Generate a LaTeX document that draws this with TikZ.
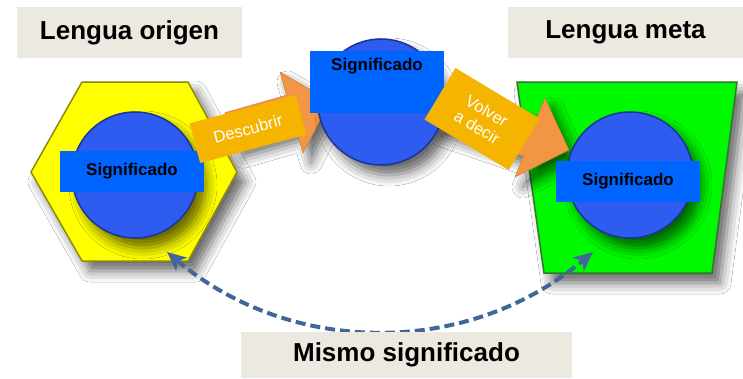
\documentclass[tikz,border=0pt]{standalone}
\usepackage{fontspec}
\setmainfont{Liberation Sans}
\usetikzlibrary{arrows.meta,shadows.blur}
\definecolor{beige}{HTML}{ECEAE0}
\definecolor{hexyel}{HTML}{FFFF00}
\definecolor{hexedge}{HTML}{8E8A10}
\definecolor{trapgreen}{HTML}{00F800}
\definecolor{trapedge}{HTML}{2F7A2A}
\definecolor{circblue}{HTML}{2E5CF0}
\definecolor{circedge}{HTML}{1B3596}
\definecolor{rectblue}{HTML}{0064FF}
\definecolor{arroworange}{HTML}{F29544}
\definecolor{boxgold}{HTML}{F5B400}
\definecolor{dashblue}{HTML}{41679A}
\begin{document}
\begin{tikzpicture}[x=1pt,y=-1pt,
  softshadow/.style={blur shadow={shadow xshift=8pt,shadow yshift=-10pt,shadow blur radius=11pt,shadow opacity=60}},
  titlebox/.style={fill=beige,inner sep=0pt,font=\fontsize{26}{30}\selectfont\bfseries},
  bigcirc/.style={circle,fill=circblue,draw=circedge,line width=1.5pt,minimum size=126pt,inner sep=0pt,softshadow},
  sigbox/.style={fill=rectblue,inner sep=0pt,font=\fontsize{17}{20}\selectfont\bfseries,text=black},
  goldbox/.style={fill=boxgold,inner sep=0pt,text=white,align=center,font=\fontsize{16.5}{19}\selectfont},
  blockarrow/.style={fill=arroworange,draw=arroworange!85!black,line width=0.5pt,softshadow},
  samelink/.style={draw=dashblue,line width=4pt,dash pattern=on 10pt off 5pt,{Stealth[length=19pt,width=17pt,inset=5pt]}-{Stealth[length=19pt,width=17pt,inset=5pt]}}
]
\useasboundingbox (0,0) rectangle (743,378);
\fill[white] (0,0) rectangle (743,378);

% hexagon (source language)
\path[fill=hexyel,draw=hexedge,line width=1.5pt,softshadow]
  (82,82) -- (188,82) -- (237,172) -- (188,261) -- (82,261) -- (31,172) -- cycle;
\node[bigcirc] (c1) at (135,175) {};
\node[sigbox,minimum width=144pt,minimum height=41pt] (s1) at (132,171.5) {Significado};

% trapezoid (target language)
\path[fill=trapgreen,draw=trapedge,line width=1.5pt,softshadow]
  (517,82) -- (737,82) -- (712,273) -- (544,273) -- cycle;

% block arrows
\path[blockarrow] (225,112.7) -- (286.5,95.2) -- (280,72) -- (330,101) -- (303,153) -- (296.5,129.8) -- (235,147.3) -- cycle;
\path[blockarrow] (446.5,88.1) -- (536.5,118.6) -- (545,98) -- (569,150) -- (515,177) -- (523.5,156.4) -- (433.5,125.9) -- cycle;

% middle meaning
\node[bigcirc] (c2) at (381,102) {};
\node[sigbox,minimum width=134pt,minimum height=62pt,anchor=north,text depth=37pt,text height=13pt] (s2) at (377,51) {Significado};

% right meaning
\node[bigcirc] (c3) at (630,175) {};
\node[sigbox,minimum width=144pt,minimum height=41pt] (s3) at (628,181.5) {Significado};

% gold label boxes
\node[goldbox,minimum width=110pt,minimum height=41pt,rotate=15] (g1) at (248,129) {Descubrir};
\node[goldbox,minimum width=98pt,minimum height=60pt,rotate=-31] (g2) at (482,119) {Volver\\a decir};

% same meaning connector
\coordinate (hexB) at (167,252);
\coordinate (trapB) at (593,252);
\draw[samelink] (hexB) .. controls (292,357) and (468,357) .. (trapB);

% title boxes
\node[titlebox,minimum width=225pt,minimum height=51pt] (lo) at (129.5,32.5) {Lengua origen};
\node[titlebox,minimum width=235pt,minimum height=51pt] (lm) at (625.5,32.5) {Lengua meta};
\node[titlebox,minimum width=331pt,minimum height=46pt] (ms) at (406.5,355) {Mismo significado};
\end{tikzpicture}
\end{document}
